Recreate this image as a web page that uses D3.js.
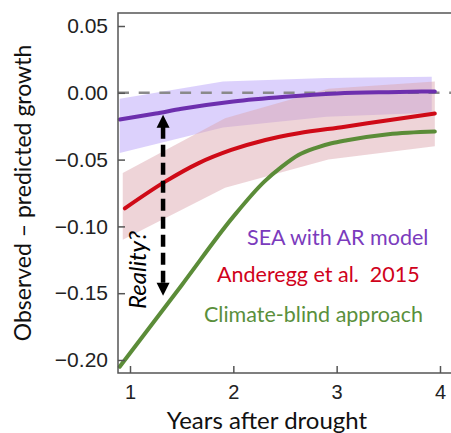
<!DOCTYPE html>
<html>
<head>
<meta charset="utf-8">
<script src="https://cdn.jsdelivr.net/npm/d3@7"></script>
<style>
  body { margin: 0; background: #fff; }
  svg { display: block; }
</style>
</head>
<body>
<div id="chart"></div>
<script>
// data
const seaX = [0.9, 1.25, 1.5, 2, 2.5, 3, 3.5, 3.95]
const seaY = [-0.020, -0.0155, -0.012, -0.0065, -0.003, -0.0005, 0.0005, 0.001]
const seaBandX = [0.9, 1.9, 2.9, 3.92]
const seaBandHi = [-0.0045, 0.0085, 0.011, 0.012]
const seaBandLo = [-0.045, -0.026, -0.018, -0.015]

const andX = [0.95, 1.34, 1.66, 1.98, 2.31, 2.63, 3.08, 3.5, 3.95]
const andY = [-0.0865, -0.0665, -0.0528, -0.0428, -0.0353, -0.0303, -0.0254, -0.0205, -0.0155]
const andBandX = [0.93, 1.92, 2.92, 3.95]
const andBandHi = [-0.060, -0.019, 0.003, 0.0085]
const andBandLo = [-0.110, -0.071, -0.050, -0.040]

const blindX = [0.9, 1.5, 2.0, 2.3, 2.47, 2.63, 2.8, 2.95, 3.1, 3.5, 3.95]
const blindY = [-0.205, -0.144, -0.0927, -0.0665, -0.0553, -0.0466, -0.0412, -0.0378, -0.0355, -0.031, -0.029]

const xTicks = [1, 2, 3, 4]
const yTicks = [0.05, 0, -0.05, -0.10, -0.15, -0.20]

const labels = ["SEA with AR model", "Anderegg et al.  2015", "Climate-blind approach"]
const labelColors = ["#7b3bbd", "#d0021b", "#5a8f3c"]

const arrowX = 1.32, arrowTop = -0.0165, arrowBottom = -0.152

// set the dimensions and margins of the graph
const margin = {top: 13, right: 0, bottom: 60, left: 118},
    width = 340,
    height = 360

const svg = d3.select("#chart")
  .append("svg")
    .attr("width", 451)
    .attr("height", 433)
  .append("g")
    .attr("transform", `translate(${margin.left},${margin.top})`)

const x = d3.scaleLinear()
  .domain([1 - 12 / 103.33, 1 + (width - 12) / 103.33])
  .range([0, width])

const y = d3.scaleLinear()
  .domain([0.05 + 13 / 1336, -0.20 - 13 / 1336])
  .range([0, height])

// bands
const band = d3.area()
  .x(d => x(d[0]))
  .y0(d => y(d[1]))
  .y1(d => y(d[2]))

svg.append("path")
  .datum(seaBandX.map((v, i) => [v, seaBandLo[i], seaBandHi[i]]))
  .attr("fill", "#cdbdfb")
  .attr("opacity", 0.7)
  .attr("d", band)

svg.append("path")
  .datum(andBandX.map((v, i) => [v, andBandLo[i], andBandHi[i]]))
  .attr("fill", "#dca6ad")
  .attr("opacity", 0.48)
  .attr("d", band)

// zero line
svg.append("line")
  .attr("x1", 0).attr("x2", width)
  .attr("y1", y(0)).attr("y2", y(0))
  .attr("stroke", "#8a8a8a")
  .attr("stroke-width", 2.5)
  .attr("stroke-dasharray", "11,9.7")

// lines
const line = d3.line()
  .x(d => x(d[0]))
  .y(d => y(d[1]))
  .curve(d3.curveMonotoneX)

const series = [
  {xs: blindX, ys: blindY, color: "#5b8c38"},
  {xs: andX, ys: andY, color: "#cf0a17"},
  {xs: seaX, ys: seaY, color: "#6d2fae"}
]

series.forEach(s => {
  svg.append("path")
    .datum(s.xs.map((v, i) => [v, s.ys[i]]))
    .attr("fill", "none")
    .attr("stroke", s.color)
    .attr("stroke-width", 4)
    .attr("stroke-linecap", "round")
    .attr("d", line)
})

// double arrow
const ax = x(arrowX), ay1 = y(arrowTop), ay2 = y(arrowBottom)
svg.append("line")
  .attr("x1", ax).attr("x2", ax)
  .attr("y1", ay1 + 12).attr("y2", ay2 - 12)
  .attr("stroke", "#000")
  .attr("stroke-width", 4.5)
  .attr("stroke-dasharray", "12,6")
svg.append("path")
  .attr("d", `M${ax},${ay1} L${ax - 6.5},${ay1 + 13} L${ax + 6.5},${ay1 + 13} Z`)
  .attr("fill", "#000")
svg.append("path")
  .attr("d", `M${ax},${ay2} L${ax - 6.5},${ay2 - 13} L${ax + 6.5},${ay2 - 13} Z`)
  .attr("fill", "#000")

svg.append("text")
  .attr("transform", `translate(${146 - margin.left},${270 - margin.top}) rotate(-90)`)
  .attr("text-anchor", "middle")
  .style("font-family", "Lato")
  .style("font-style", "italic")
  .style("font-size", "24px")
  .text("Reality?")

// series labels
const labelPos = [[129, 232], [99, 269], [86, 309]]
labels.forEach((t, i) => {
  svg.append("text")
    .attr("x", labelPos[i][0])
    .attr("y", labelPos[i][1])
    .attr("fill", labelColors[i])
    .style("font-family", "Lato")
    .style("font-size", "21.5px")
    .style("white-space", "pre")
    .text(t)
})

// axes
const yAxis = svg.append("g")
  .call(d3.axisLeft(y).tickValues(yTicks).tickFormat(d3.format(".2f"))
    .tickSize(-7).tickSizeOuter(0).tickPadding(10))
yAxis.select(".domain").remove()
yAxis.selectAll("line").attr("stroke", "#555").attr("stroke-width", 1.5)
yAxis.selectAll("text")
  .style("font-family", "Liberation Sans")
  .style("font-size", "21px")
  .attr("fill", "#222")

const xAxis = svg.append("g")
  .attr("transform", `translate(0,${height})`)
  .call(d3.axisBottom(x).tickValues(xTicks).tickFormat(d3.format("d"))
    .tickSize(-7).tickSizeOuter(0).tickPadding(12))
xAxis.select(".domain").remove()
xAxis.selectAll("line").attr("stroke", "#555").attr("stroke-width", 1.5)
xAxis.selectAll("text")
  .style("font-family", "Liberation Sans")
  .style("font-size", "20px")
  .attr("fill", "#222")

// frame
svg.append("rect")
  .attr("x", 0).attr("y", 0)
  .attr("width", width + 10).attr("height", height)
  .attr("fill", "none")
  .attr("stroke", "#555")
  .attr("stroke-width", 1.5)

// axis titles
svg.append("text")
  .attr("x", 267 - margin.left)
  .attr("y", 429 - margin.top)
  .attr("text-anchor", "middle")
  .style("font-family", "Lato")
  .style("font-size", "24px")
  .attr("fill", "#111")
  .text("Years after drought")

svg.append("text")
  .attr("transform", `translate(${31 - margin.left},${193 - margin.top}) rotate(-90)`)
  .attr("text-anchor", "middle")
  .style("font-family", "Lato")
  .style("font-size", "23px")
  .attr("fill", "#111")
  .text("Observed \u2013 predicted growth")
</script>
</body>
</html>
